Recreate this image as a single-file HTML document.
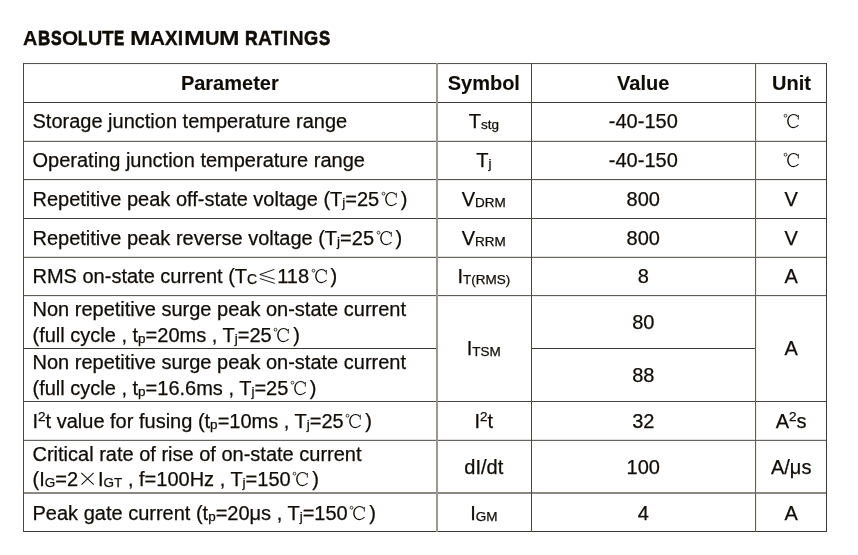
<!DOCTYPE html>
<html><head><meta charset="utf-8"><style>
html,body{margin:0;padding:0;background:#fff;}
body{width:858px;height:555px;position:relative;overflow:hidden;font-family:"Liberation Sans",sans-serif;color:#100c08;}
.l{position:absolute;}
.t{position:absolute;white-space:nowrap;font-size:20px;line-height:20px;-webkit-text-stroke:0.25px #100c08;}
.c{width:300px;text-align:center;}
.b{font-weight:bold;-webkit-text-stroke:0.1px #100c08;}
.sb{font-size:13.5px;position:relative;top:1px;}
.sp{font-size:13.5px;position:relative;top:-6.8px;}
.g{display:inline-block;width:20px;height:0;position:relative;}
.g svg{position:absolute;left:0;bottom:-3px;}
.dg{width:21.5px;}
.dg svg{left:0.7px;}
.title{position:absolute;top:28.00px;font-size:20.5px;line-height:20px;font-weight:bold;-webkit-text-stroke:0.35px #100c08;white-space:nowrap;transform-origin:0 0;}
</style></head><body>
<div id="w" style="position:absolute;left:0;top:0;width:858px;height:555px;will-change:transform">
<div class="title" style="left:23.35px;transform:scaleX(0.9687);-webkit-text-stroke:0.25px #100c08">A</div><div class="title" style="left:38.01px;transform:scaleX(0.8227);-webkit-text-stroke:0.80px #100c08">B</div><div class="title" style="left:50.89px;transform:scaleX(0.7769);-webkit-text-stroke:0.80px #100c08">S</div><div class="title" style="left:61.99px;transform:scaleX(1.0142);-webkit-text-stroke:0.15px #100c08">O</div><div class="title" style="left:78.23px;transform:scaleX(0.7324);-webkit-text-stroke:0.80px #100c08">L</div><div class="title" style="left:87.77px;transform:scaleX(0.9654);-webkit-text-stroke:0.26px #100c08">U</div><div class="title" style="left:101.94px;transform:scaleX(0.9211);-webkit-text-stroke:0.42px #100c08">T</div><div class="title" style="left:114.42px;transform:scaleX(0.7395);-webkit-text-stroke:0.80px #100c08">E</div><div class="title" style="left:130.12px;transform:scaleX(1.1981);-webkit-text-stroke:0.15px #100c08">M</div><div class="title" style="left:150.12px;transform:scaleX(1.0134);-webkit-text-stroke:0.15px #100c08">A</div><div class="title" style="left:164.86px;transform:scaleX(0.9127);-webkit-text-stroke:0.45px #100c08">X</div><div class="title" style="left:178.07px;transform:scaleX(0.8553);-webkit-text-stroke:0.68px #100c08">I</div><div class="title" style="left:183.58px;transform:scaleX(1.2258);-webkit-text-stroke:0.15px #100c08">M</div><div class="title" style="left:204.54px;transform:scaleX(0.9895);-webkit-text-stroke:0.18px #100c08">U</div><div class="title" style="left:219.42px;transform:scaleX(1.1981);-webkit-text-stroke:0.15px #100c08">M</div><div class="title" style="left:245.28px;transform:scaleX(0.8522);-webkit-text-stroke:0.70px #100c08">R</div><div class="title" style="left:258.26px;transform:scaleX(0.9538);-webkit-text-stroke:0.30px #100c08">A</div><div class="title" style="left:270.85px;transform:scaleX(0.9046);-webkit-text-stroke:0.48px #100c08">T</div><div class="title" style="left:283.17px;transform:scaleX(0.8553);-webkit-text-stroke:0.68px #100c08">I</div><div class="title" style="left:288.58px;transform:scaleX(0.9967);-webkit-text-stroke:0.16px #100c08">N</div><div class="title" style="left:303.90px;transform:scaleX(0.8894);-webkit-text-stroke:0.54px #100c08">G</div><div class="title" style="left:318.67px;transform:scaleX(0.8099);-webkit-text-stroke:0.80px #100c08">S</div>
<div class="l" style="left:756px;top:63px;width:1px;height:469px;background:#f0efed"></div>
<div class="l" style="left:23px;top:63px;width:804px;height:1px;background:#57534e"></div>
<div class="l" style="left:23px;top:64px;width:804px;height:1px;background:#f5f4f3"></div>
<div class="l" style="left:23px;top:102px;width:804px;height:1px;background:#3d3934"></div>
<div class="l" style="left:23px;top:140px;width:804px;height:1px;background:#e0dedb"></div>
<div class="l" style="left:23px;top:141px;width:804px;height:1px;background:#67635e"></div>
<div class="l" style="left:23px;top:179px;width:804px;height:1px;background:#58544f"></div>
<div class="l" style="left:23px;top:180px;width:804px;height:1px;background:#eeedeb"></div>
<div class="l" style="left:23px;top:218px;width:804px;height:1px;background:#46423d"></div>
<div class="l" style="left:23px;top:256px;width:804px;height:1px;background:#e0dedb"></div>
<div class="l" style="left:23px;top:257px;width:804px;height:1px;background:#67635e"></div>
<div class="l" style="left:23px;top:295px;width:804px;height:1px;background:#615d58"></div>
<div class="l" style="left:23px;top:296px;width:804px;height:1px;background:#ebeae8"></div>
<div class="l" style="left:23px;top:401px;width:804px;height:1px;background:#48443f"></div>
<div class="l" style="left:23px;top:439px;width:804px;height:1px;background:#e0dedb"></div>
<div class="l" style="left:23px;top:440px;width:804px;height:1px;background:#67635e"></div>
<div class="l" style="left:23px;top:492px;width:804px;height:1px;background:#8c8884"></div>
<div class="l" style="left:23px;top:493px;width:804px;height:1px;background:#8c8884"></div>
<div class="l" style="left:23px;top:531px;width:804px;height:1px;background:#3b3833"></div>
<div class="l" style="left:23px;top:348px;width:413px;height:1px;background:#3b3833"></div>
<div class="l" style="left:531px;top:348px;width:224px;height:1px;background:#3b3833"></div>
<div class="l" style="left:436px;top:63px;width:2px;height:469px;background:#9b9893"></div>
<div class="l" style="left:23px;top:63px;width:1px;height:469px;background:#4a4641"></div>
<div class="l" style="left:531px;top:63px;width:1px;height:469px;background:#4a4641"></div>
<div class="l" style="left:755px;top:63px;width:1px;height:469px;background:#5f5b56"></div>
<div class="l" style="left:826px;top:63px;width:1px;height:469px;background:#3b3833"></div>
<div class="t c b" style="top:73.20px;left:79.80px">Parameter</div>
<div class="t c b" style="top:73.20px;left:333.80px">Symbol</div>
<div class="t c b" style="top:73.20px;left:493.20px">Value</div>
<div class="t c b" style="top:73.20px;left:641.50px">Unit</div>
<div class="t " style="top:111.40px;left:32.50px">Storage junction temperature range</div>
<div class="t c " style="top:111.40px;left:333.80px">T<span class="sb">stg</span></div>
<div class="t c " style="top:111.40px;left:493.30px">-40-150</div>
<div class="t c " style="top:111.40px;left:642.00px"><span class="g dg"><svg width="20" height="20" viewBox="0 0 20 20"><circle cx="3.5" cy="4.7" r="1.4" fill="none" stroke="#100c08" stroke-width="0.8"/><path d="M15.8,5.6 C14.6,4.0 13.2,3.45 11.5,3.45 C8.2,3.45 5.9,6.4 5.9,10.05 C5.9,13.9 8.3,16.65 11.5,16.65 C13.6,16.65 15.3,15.6 16.5,14.0" fill="none" stroke="#100c08" stroke-width="1.1"/><path d="M7.6,5.2 C6.4,6.6 5.7,8.2 5.7,10.05 C5.7,12.0 6.4,13.6 7.6,15.0" fill="none" stroke="#100c08" stroke-width="0.7"/><path d="M16.3,3.9 L16.3,8.6" fill="none" stroke="#100c08" stroke-width="0.9"/></svg></span></div>
<div class="t " style="top:150.20px;left:32.50px">Operating junction temperature range</div>
<div class="t c " style="top:150.20px;left:333.80px">T<span class="sb">j</span></div>
<div class="t c " style="top:150.20px;left:493.30px">-40-150</div>
<div class="t c " style="top:150.20px;left:642.00px"><span class="g dg"><svg width="20" height="20" viewBox="0 0 20 20"><circle cx="3.5" cy="4.7" r="1.4" fill="none" stroke="#100c08" stroke-width="0.8"/><path d="M15.8,5.6 C14.6,4.0 13.2,3.45 11.5,3.45 C8.2,3.45 5.9,6.4 5.9,10.05 C5.9,13.9 8.3,16.65 11.5,16.65 C13.6,16.65 15.3,15.6 16.5,14.0" fill="none" stroke="#100c08" stroke-width="1.1"/><path d="M7.6,5.2 C6.4,6.6 5.7,8.2 5.7,10.05 C5.7,12.0 6.4,13.6 7.6,15.0" fill="none" stroke="#100c08" stroke-width="0.7"/><path d="M16.3,3.9 L16.3,8.6" fill="none" stroke="#100c08" stroke-width="0.9"/></svg></span></div>
<div class="t " style="top:189.40px;left:32.50px">Repetitive peak off-state voltage (T<span class="sb">j</span>=25<span class="g dg"><svg width="20" height="20" viewBox="0 0 20 20"><circle cx="3.5" cy="4.7" r="1.4" fill="none" stroke="#100c08" stroke-width="0.8"/><path d="M15.8,5.6 C14.6,4.0 13.2,3.45 11.5,3.45 C8.2,3.45 5.9,6.4 5.9,10.05 C5.9,13.9 8.3,16.65 11.5,16.65 C13.6,16.65 15.3,15.6 16.5,14.0" fill="none" stroke="#100c08" stroke-width="1.1"/><path d="M7.6,5.2 C6.4,6.6 5.7,8.2 5.7,10.05 C5.7,12.0 6.4,13.6 7.6,15.0" fill="none" stroke="#100c08" stroke-width="0.7"/><path d="M16.3,3.9 L16.3,8.6" fill="none" stroke="#100c08" stroke-width="0.9"/></svg></span>)</div>
<div class="t c " style="top:189.40px;left:333.80px">V<span class="sb">DRM</span></div>
<div class="t c " style="top:189.40px;left:493.30px">800</div>
<div class="t c " style="top:189.40px;left:641.20px">V</div>
<div class="t " style="top:227.80px;left:32.50px">Repetitive peak reverse voltage (T<span class="sb">j</span>=25<span class="g dg"><svg width="20" height="20" viewBox="0 0 20 20"><circle cx="3.5" cy="4.7" r="1.4" fill="none" stroke="#100c08" stroke-width="0.8"/><path d="M15.8,5.6 C14.6,4.0 13.2,3.45 11.5,3.45 C8.2,3.45 5.9,6.4 5.9,10.05 C5.9,13.9 8.3,16.65 11.5,16.65 C13.6,16.65 15.3,15.6 16.5,14.0" fill="none" stroke="#100c08" stroke-width="1.1"/><path d="M7.6,5.2 C6.4,6.6 5.7,8.2 5.7,10.05 C5.7,12.0 6.4,13.6 7.6,15.0" fill="none" stroke="#100c08" stroke-width="0.7"/><path d="M16.3,3.9 L16.3,8.6" fill="none" stroke="#100c08" stroke-width="0.9"/></svg></span>)</div>
<div class="t c " style="top:227.80px;left:333.80px">V<span class="sb">RRM</span></div>
<div class="t c " style="top:227.80px;left:493.30px">800</div>
<div class="t c " style="top:227.80px;left:641.20px">V</div>
<div class="t " style="top:266.20px;left:32.50px">RMS on-state current (T<span class="sb" style="font-size:14px">C</span><span class="g"><svg width="20" height="20" viewBox="0 0 20 20"><path d="M17.4,3.4 L2.8,8.5 L17.6,13.2 M2.8,12.5 L17.8,17.4" fill="none" stroke="#100c08" stroke-width="0.95"/></svg></span>118<span class="g dg"><svg width="20" height="20" viewBox="0 0 20 20"><circle cx="3.5" cy="4.7" r="1.4" fill="none" stroke="#100c08" stroke-width="0.8"/><path d="M15.8,5.6 C14.6,4.0 13.2,3.45 11.5,3.45 C8.2,3.45 5.9,6.4 5.9,10.05 C5.9,13.9 8.3,16.65 11.5,16.65 C13.6,16.65 15.3,15.6 16.5,14.0" fill="none" stroke="#100c08" stroke-width="1.1"/><path d="M7.6,5.2 C6.4,6.6 5.7,8.2 5.7,10.05 C5.7,12.0 6.4,13.6 7.6,15.0" fill="none" stroke="#100c08" stroke-width="0.7"/><path d="M16.3,3.9 L16.3,8.6" fill="none" stroke="#100c08" stroke-width="0.9"/></svg></span>)</div>
<div class="t c " style="top:266.20px;left:333.80px">I<span class="sb">T(RMS)</span></div>
<div class="t c " style="top:266.20px;left:493.30px">8</div>
<div class="t c " style="top:266.20px;left:641.20px">A</div>
<div class="t " style="top:298.70px;left:32.50px">Non repetitive surge peak on-state current</div>
<div class="t " style="top:324.70px;left:32.50px">(full cycle , t<span class="sb">p</span>=20ms , T<span class="sb">j</span>=25<span class="g dg"><svg width="20" height="20" viewBox="0 0 20 20"><circle cx="3.5" cy="4.7" r="1.4" fill="none" stroke="#100c08" stroke-width="0.8"/><path d="M15.8,5.6 C14.6,4.0 13.2,3.45 11.5,3.45 C8.2,3.45 5.9,6.4 5.9,10.05 C5.9,13.9 8.3,16.65 11.5,16.65 C13.6,16.65 15.3,15.6 16.5,14.0" fill="none" stroke="#100c08" stroke-width="1.1"/><path d="M7.6,5.2 C6.4,6.6 5.7,8.2 5.7,10.05 C5.7,12.0 6.4,13.6 7.6,15.0" fill="none" stroke="#100c08" stroke-width="0.7"/><path d="M16.3,3.9 L16.3,8.6" fill="none" stroke="#100c08" stroke-width="0.9"/></svg></span>)</div>
<div class="t " style="top:351.80px;left:32.50px">Non repetitive surge peak on-state current</div>
<div class="t " style="top:377.80px;left:32.50px">(full cycle , t<span class="sb">p</span>=16.6ms , T<span class="sb">j</span>=25<span class="g dg"><svg width="20" height="20" viewBox="0 0 20 20"><circle cx="3.5" cy="4.7" r="1.4" fill="none" stroke="#100c08" stroke-width="0.8"/><path d="M15.8,5.6 C14.6,4.0 13.2,3.45 11.5,3.45 C8.2,3.45 5.9,6.4 5.9,10.05 C5.9,13.9 8.3,16.65 11.5,16.65 C13.6,16.65 15.3,15.6 16.5,14.0" fill="none" stroke="#100c08" stroke-width="1.1"/><path d="M7.6,5.2 C6.4,6.6 5.7,8.2 5.7,10.05 C5.7,12.0 6.4,13.6 7.6,15.0" fill="none" stroke="#100c08" stroke-width="0.7"/><path d="M16.3,3.9 L16.3,8.6" fill="none" stroke="#100c08" stroke-width="0.9"/></svg></span>)</div>
<div class="t c " style="top:338.30px;left:333.80px">I<span class="sb">TSM</span></div>
<div class="t c " style="top:312.20px;left:493.30px">80</div>
<div class="t c " style="top:364.80px;left:493.30px">88</div>
<div class="t c " style="top:338.20px;left:641.20px">A</div>
<div class="t " style="top:410.70px;left:32.50px">I<span class="sp">2</span>t value for fusing (t<span class="sb">p</span>=10ms , T<span class="sb">j</span>=25<span class="g dg"><svg width="20" height="20" viewBox="0 0 20 20"><circle cx="3.5" cy="4.7" r="1.4" fill="none" stroke="#100c08" stroke-width="0.8"/><path d="M15.8,5.6 C14.6,4.0 13.2,3.45 11.5,3.45 C8.2,3.45 5.9,6.4 5.9,10.05 C5.9,13.9 8.3,16.65 11.5,16.65 C13.6,16.65 15.3,15.6 16.5,14.0" fill="none" stroke="#100c08" stroke-width="1.1"/><path d="M7.6,5.2 C6.4,6.6 5.7,8.2 5.7,10.05 C5.7,12.0 6.4,13.6 7.6,15.0" fill="none" stroke="#100c08" stroke-width="0.7"/><path d="M16.3,3.9 L16.3,8.6" fill="none" stroke="#100c08" stroke-width="0.9"/></svg></span>)</div>
<div class="t c " style="top:410.70px;left:333.80px">I<span class="sp">2</span>t</div>
<div class="t c " style="top:410.70px;left:493.30px">32</div>
<div class="t c " style="top:410.70px;left:641.20px">A<span class="sp">2</span>s</div>
<div class="t " style="top:443.50px;left:32.50px">Critical rate of rise of on-state current</div>
<div class="t " style="top:469.30px;left:32.50px">(I<span class="sb">G</span>=2<span class="g"><svg width="20" height="20" viewBox="0 0 20 20"><path d="M3.2,3.9 L15.8,15.6 M15.6,3.9 L3.5,15.6" fill="none" stroke="#100c08" stroke-width="1.05"/></svg></span>I<span class="sb">GT</span> , f=100Hz , T<span class="sb">j</span>=150<span class="g dg"><svg width="20" height="20" viewBox="0 0 20 20"><circle cx="3.5" cy="4.7" r="1.4" fill="none" stroke="#100c08" stroke-width="0.8"/><path d="M15.8,5.6 C14.6,4.0 13.2,3.45 11.5,3.45 C8.2,3.45 5.9,6.4 5.9,10.05 C5.9,13.9 8.3,16.65 11.5,16.65 C13.6,16.65 15.3,15.6 16.5,14.0" fill="none" stroke="#100c08" stroke-width="1.1"/><path d="M7.6,5.2 C6.4,6.6 5.7,8.2 5.7,10.05 C5.7,12.0 6.4,13.6 7.6,15.0" fill="none" stroke="#100c08" stroke-width="0.7"/><path d="M16.3,3.9 L16.3,8.6" fill="none" stroke="#100c08" stroke-width="0.9"/></svg></span>)</div>
<div class="t c " style="top:456.70px;left:333.80px">dI/dt</div>
<div class="t c " style="top:456.70px;left:493.30px">100</div>
<div class="t c " style="top:456.70px;left:641.20px">A/μs</div>
<div class="t " style="top:502.50px;left:32.50px">Peak gate current (t<span class="sb">p</span>=20μs , T<span class="sb">j</span>=150<span class="g dg"><svg width="20" height="20" viewBox="0 0 20 20"><circle cx="3.5" cy="4.7" r="1.4" fill="none" stroke="#100c08" stroke-width="0.8"/><path d="M15.8,5.6 C14.6,4.0 13.2,3.45 11.5,3.45 C8.2,3.45 5.9,6.4 5.9,10.05 C5.9,13.9 8.3,16.65 11.5,16.65 C13.6,16.65 15.3,15.6 16.5,14.0" fill="none" stroke="#100c08" stroke-width="1.1"/><path d="M7.6,5.2 C6.4,6.6 5.7,8.2 5.7,10.05 C5.7,12.0 6.4,13.6 7.6,15.0" fill="none" stroke="#100c08" stroke-width="0.7"/><path d="M16.3,3.9 L16.3,8.6" fill="none" stroke="#100c08" stroke-width="0.9"/></svg></span>)</div>
<div class="t c " style="top:502.50px;left:333.80px">I<span class="sb">GM</span></div>
<div class="t c " style="top:502.50px;left:493.30px">4</div>
<div class="t c " style="top:502.50px;left:641.20px">A</div>
</div>
</body></html>
